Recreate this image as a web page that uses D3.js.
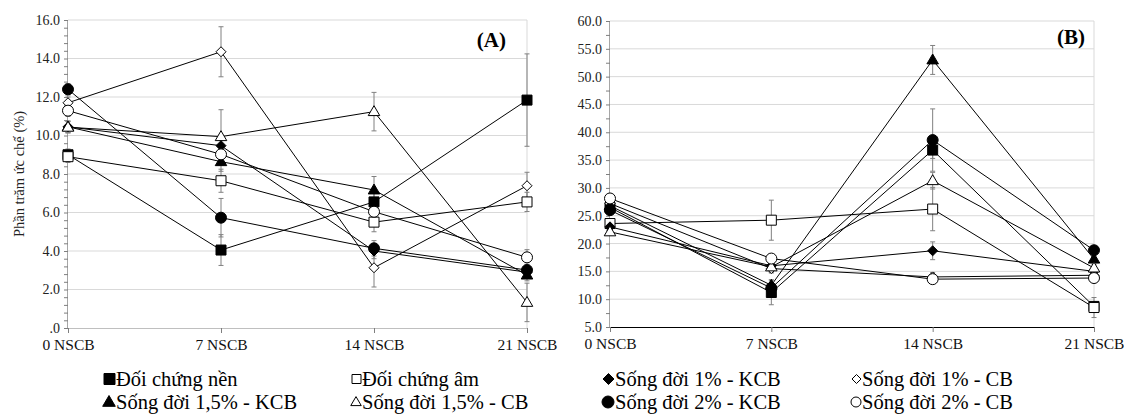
<!DOCTYPE html>
<html><head><meta charset="utf-8">
<script src="https://cdn.jsdelivr.net/npm/d3@7"></script>
<style>html,body{margin:0;padding:0;background:#fff;}svg{display:block;}</style>
</head><body>
<svg id="c" width="1124" height="419"></svg>
<script>
const categories = ["0 NSCB", "7 NSCB", "14 NSCB", "21 NSCB"];
const seriesNames = ["Đối chứng nền", "Đối chứng âm", "Sống đời 1% - KCB", "Sống đời 1% - CB",
  "Sống đời 1,5% - KCB", "Sống đời 1,5% - CB", "Sống đời 2% - KCB", "Sống đời 2% - CB"];
const shapes = ["square", "square", "diamond", "diamond", "triangle", "triangle", "circle", "circle"];
const filled = [true, false, true, false, true, false, true, false];

// Panel A values
const doiChungNenA = [9.0, 4.05, 6.55, 11.84];
const doiChungAmA = [8.9, 7.65, 5.5, 6.55];
const songDoi1KcbA = [10.45, 9.47, 4.0, 2.9];
const songDoi1CbA = [11.7, 14.35, 3.13, 7.39];
const songDoi15KcbA = [10.45, 8.64, 7.17, 2.75];
const songDoi15CbA = [10.43, 9.94, 11.24, 1.33];
const songDoi2KcbA = [12.4, 5.73, 4.14, 3.01];
const songDoi2CbA = [11.29, 9.02, 6.04, 3.67];
// Panel A error bars
const errDoiChungNenA = [0.3, 0.8, 0.5, 2.4];
const errDoiChungAmA = [0.3, 0.6, 0.5, 0.5];
const errSongDoi1KcbA = [0.3, 0.5, 0.4, 0.3];
const errSongDoi1CbA = [0.3, 1.3, 1.0, 0.7];
const errSongDoi15KcbA = [0.3, 0.5, 0.7, 0.3];
const errSongDoi15CbA = [0.3, 1.4, 1.0, 1.0];
const errSongDoi2KcbA = [0.3, 1.0, 0.4, 0.3];
const errSongDoi2CbA = [0.3, 0.5, 0.5, 0.4];

// Panel B values
const doiChungNenB = [26.5, 11.2, 36.8, 8.7];
const doiChungAmB = [23.6, 24.2, 26.2, 8.5];
const songDoi1KcbB = [23.0, 16.0, 18.7, 15.0];
const songDoi1CbB = [27.2, 15.5, 14.0, 14.3];
const songDoi15KcbB = [26.8, 12.5, 53.0, 17.2];
const songDoi15CbB = [22.1, 15.8, 31.3, 15.6];
const songDoi2KcbB = [26.0, 12.0, 38.6, 18.8];
const songDoi2CbB = [28.1, 17.3, 13.6, 13.8];
// Panel B error bars
const errDoiChungNenB = [0.5, 2.2, 1.5, 0.8];
const errDoiChungAmB = [0.5, 3.6, 3.9, 1.8];
const errSongDoi1KcbB = [0.5, 0.8, 1.6, 0.6];
const errSongDoi1CbB = [0.5, 0.8, 0.8, 0.5];
const errSongDoi15KcbB = [0.5, 1.0, 2.6, 1.0];
const errSongDoi15CbB = [0.5, 1.0, 1.5, 1.0];
const errSongDoi2KcbB = [0.5, 1.0, 5.6, 0.8];
const errSongDoi2CbB = [0.5, 0.8, 0.8, 0.5];

const yTicksA = [0, 2, 4, 6, 8, 10, 12, 14, 16];
const yTickLabelsA = [".0", "2.0", "4.0", "6.0", "8.0", "10.0", "12.0", "14.0", "16.0"];
const yTicksB = [5, 10, 15, 20, 25, 30, 35, 40, 45, 50, 55, 60];
const yTickLabelsB = ["5.0", "10.0", "15.0", "20.0", "25.0", "30.0", "35.0", "40.0", "45.0", "50.0", "55.0", "60.0"];

const valuesA = [doiChungNenA, doiChungAmA, songDoi1KcbA, songDoi1CbA, songDoi15KcbA, songDoi15CbA, songDoi2KcbA, songDoi2CbA];
const errorsA = [errDoiChungNenA, errDoiChungAmA, errSongDoi1KcbA, errSongDoi1CbA, errSongDoi15KcbA, errSongDoi15CbA, errSongDoi2KcbA, errSongDoi2CbA];
const valuesB = [doiChungNenB, doiChungAmB, songDoi1KcbB, songDoi1CbB, songDoi15KcbB, songDoi15CbB, songDoi2KcbB, songDoi2CbB];
const errorsB = [errDoiChungNenB, errDoiChungAmB, errSongDoi1KcbB, errSongDoi1CbB, errSongDoi15KcbB, errSongDoi15CbB, errSongDoi2KcbB, errSongDoi2CbB];

const FONT = "'Liberation Serif','Times New Roman',serif";
const svg = d3.select("#c");

function shapePath(shape, r) {
  if (shape === "square") return `M${-r},${-r}H${r}V${r}H${-r}Z`;
  if (shape === "diamond") return `M0,${-r}L${r},0L0,${r}L${-r},0Z`;
  if (shape === "triangle") { const h = r * 1.8; return `M0,${-h*0.6}L${r*1.05},${h*0.4}L${-r*1.05},${h*0.4}Z`; }
  return d3.arc()({innerRadius: 0, outerRadius: r, startAngle: 0, endAngle: 2 * Math.PI});
}
const markerR = {square: 5, diamond: 5, triangle: 5.5, circle: 5.5};

function panel(cfg) {
  const x = d3.scalePoint().domain(categories).range([cfg.x0, cfg.x1]).padding(0);
  const y = d3.scaleLinear().domain(cfg.domain).range([cfg.yb, cfg.yt]);
  const g = svg.append("g");
  // gridlines
  g.selectAll(".grid").data(cfg.ticks.filter(t => t !== cfg.domain[0])).enter().append("line")
    .attr("x1", cfg.x0).attr("x2", cfg.x1).attr("y1", d => y(d)).attr("y2", d => y(d))
    .attr("stroke", "#d9d9d9").attr("stroke-width", 1);
  // right frame
  g.append("line").attr("x1", cfg.x1).attr("x2", cfg.x1).attr("y1", cfg.yt).attr("y2", cfg.yb)
    .attr("stroke", "#d9d9d9");
  // y axis
  const minor = d3.range(cfg.domain[0], cfg.domain[1] + 1e-9, cfg.minorStep);
  const yAxis = d3.axisLeft(y).tickValues(minor).tickSize(4).tickFormat(d => {
    const i = cfg.ticks.findIndex(t => Math.abs(t - d) < 1e-6);
    return i >= 0 ? cfg.tickLabels[i] : "";
  }).tickPadding(4);
  const ya = g.append("g").attr("transform", `translate(${cfg.x0},0)`).call(yAxis)
    .attr("font-family", FONT).attr("font-size", 14);
  ya.select(".domain").attr("stroke", "#a6a6a6").attr("d", `M-0.5,${cfg.yt}V${cfg.yb}`);
  ya.selectAll("line").attr("stroke", "#7f7f7f");
  ya.selectAll("text").attr("fill", "#222");
  // x axis
  const xAxis = d3.axisBottom(x).tickSize(5).tickPadding(6);
  const xa = g.append("g").attr("transform", `translate(0,${cfg.yb})`).call(xAxis)
    .attr("font-family", FONT).attr("font-size", 15.5);
  xa.select(".domain").attr("stroke", cfg.xAxisColor).attr("d", `M${cfg.x0},0.5H${cfg.x1}`);
  xa.selectAll("line").attr("stroke", "#7f7f7f");
  xa.selectAll("text").attr("fill", "#111");

  // error bars
  cfg.values.forEach((vals, si) => {
    const errs = cfg.errors[si];
    const eg = g.append("g").attr("stroke", "#808080").attr("stroke-width", 1);
    vals.forEach((v, i) => {
      const cx = x(categories[i]);
      const top = y(v + errs[i]), bot = y(v - errs[i]);
      eg.append("line").attr("x1", cx).attr("x2", cx).attr("y1", top).attr("y2", bot);
      eg.append("line").attr("x1", cx - 2.5).attr("x2", cx + 2.5).attr("y1", top).attr("y2", top);
      eg.append("line").attr("x1", cx - 2.5).attr("x2", cx + 2.5).attr("y1", bot).attr("y2", bot);
    });
  });
  // lines + markers
  const line = d3.line().x((d, i) => x(categories[i])).y(d => y(d));
  cfg.values.forEach((vals, si) => {
    g.append("path").attr("d", line(vals)).attr("fill", "none").attr("stroke", "#000").attr("stroke-width", 1);
    g.selectAll(null).data(vals).enter().append("path")
      .attr("transform", (d, i) => `translate(${x(categories[i])},${y(d)})`)
      .attr("d", shapePath(shapes[si], markerR[shapes[si]]))
      .attr("fill", filled[si] ? "#000" : "#fff").attr("stroke", "#000").attr("stroke-width", 1);
  });
  // panel label
  g.append("text").attr("x", cfg.labelX).attr("y", cfg.labelY).attr("text-anchor", "end")
    .attr("font-family", FONT).attr("font-weight", "bold").attr("font-size", 21).text(cfg.label);
}

panel({x0: 68, x1: 527, yt: 20, yb: 328, domain: [0, 16], ticks: yTicksA, tickLabels: yTickLabelsA,
  minorStep: 0.4, values: valuesA, errors: errorsA, xAxisColor: "#bfbfbf", label: "(A)", labelX: 506, labelY: 47});
panel({x0: 610, x1: 1094, yt: 21, yb: 327, domain: [5, 60], ticks: yTicksB, tickLabels: yTickLabelsB,
  minorStep: 2.5, values: valuesB, errors: errorsB, xAxisColor: "#000", label: "(B)", labelX: 1085, labelY: 44});

// y title
svg.append("text").attr("transform", "translate(24,174) rotate(-90)").attr("text-anchor", "middle")
  .attr("font-family", FONT).attr("font-size", 14.5).attr("fill", "#222").text("Phần trăm ức chế (%)");

// legend
const legX = [116, 362, 615, 862];
const legY = [386, 409];
seriesNames.forEach((name, i) => {
  const col = i % 4, row = Math.floor(i / 4);
  const tx = legX[col], ty = legY[row];
  const s = shapes[i];
  const r = filled[i] ? {square: 5.5, diamond: 5.5, triangle: 6, circle: 6}[s] : {square: 4.5, diamond: 4.5, triangle: 5, circle: 5}[s];
  svg.append("path").attr("transform", `translate(${tx - r - 1},${ty - 7})`)
    .attr("d", shapePath(s, r)).attr("fill", filled[i] ? "#000" : "#fff").attr("stroke", "#000").attr("stroke-width", 1);
  svg.append("text").attr("x", tx).attr("y", ty).attr("font-family", FONT).attr("font-size", 20.5)
    .attr("fill", "#000").text(name);
});
</script>
</body></html>
